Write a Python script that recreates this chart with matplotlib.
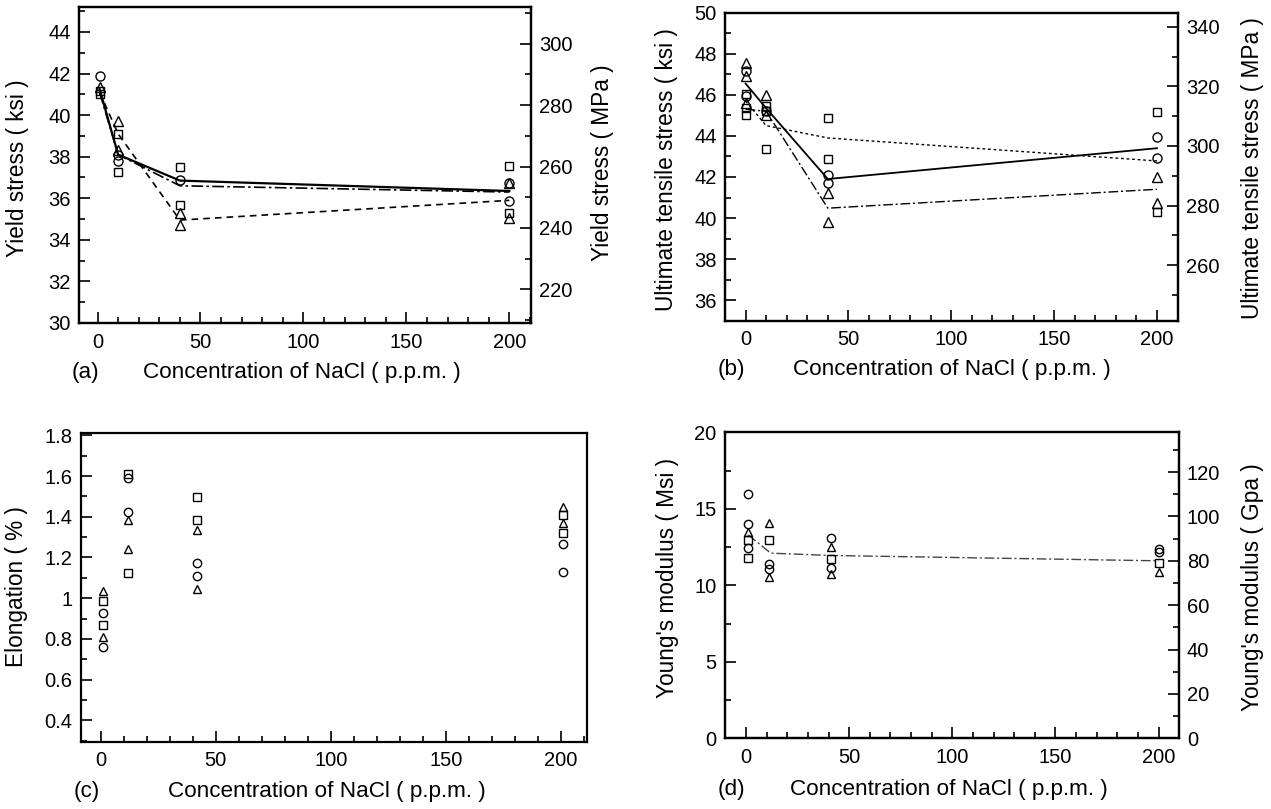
import matplotlib
matplotlib.use("Agg")
import matplotlib.pyplot as plt
from matplotlib.ticker import MultipleLocator

plt.rcParams['font.family'] = ['Liberation Sans', 'DejaVu Sans']

W, H = 1271, 809
KSI_TO_MPA = 6.895

# ---------------- data ----------------
# (a) yield stress, ksi
a_circle_x = [1, 10, 10, 40, 200, 200]
a_circle_y = [41.9, 38.1, 37.8, 36.9, 36.75, 35.87]
a_square_x = [1, 1, 10, 10, 40, 40, 200, 200]
a_square_y = [41.15, 41.0, 39.1, 37.27, 37.5, 35.67, 37.55, 35.3]
a_tri_x = [1, 10, 10, 40, 40, 200, 200]
a_tri_y = [41.35, 39.73, 38.3, 35.3, 34.71, 36.75, 35.03]
a_line_x = [1, 10, 40, 200]
a_solid = [41.25, 38.1, 36.85, 36.35]
a_dashdot = [41.1, 38.1, 36.6, 36.3]
a_dashed = [41.1, 39.1, 34.95, 35.9]

# (b) ultimate tensile stress, ksi
b_circle_x = [0, 0, 10, 40, 40, 200, 200]
b_circle_y = [47.15, 45.93, 45.2, 42.1, 41.7, 43.93, 42.92]
b_square_x = [0, 0, 0, 10, 10, 10, 40, 40, 200, 200]
b_square_y = [46.05, 45.36, 45.03, 45.47, 45.2, 43.37, 44.87, 42.87, 45.15, 40.31]
b_tri_x = [0, 0, 0, 10, 10, 40, 40, 200, 200]
b_tri_y = [47.56, 46.94, 45.6, 46.01, 45.0, 41.21, 39.83, 42.02, 40.75]
b_line_x = [0, 10, 40, 200]
b_solid = [46.55, 45.35, 41.9, 43.4]
b_dotted = [45.7, 44.5, 43.9, 42.78]
b_dashdot = [45.3, 45.2, 40.48, 41.4]

# (c) elongation, %
c_circle_x = [1, 1, 12, 12, 42, 42, 201, 201]
c_circle_y = [0.925, 0.759, 1.59, 1.422, 1.175, 1.109, 1.264, 1.129]
c_square_x = [1, 1, 12, 12, 42, 42, 201, 201]
c_square_y = [0.987, 0.868, 1.611, 1.126, 1.495, 1.386, 1.407, 1.321]
c_tri_x = [1, 1, 12, 12, 42, 42, 201, 201]
c_tri_y = [1.036, 0.808, 1.383, 1.24, 1.337, 1.047, 1.448, 1.367]

# (d) Young's modulus, Msi
d_circle_x = [1, 1, 1, 11, 11, 41, 41, 200, 200]
d_circle_y = [15.95, 13.99, 12.42, 11.39, 11.06, 13.07, 11.15, 12.35, 12.2]
d_square_x = [1, 1, 11, 41, 200]
d_square_y = [12.96, 11.76, 12.96, 11.7, 11.48]
d_tri_x = [1, 11, 11, 41, 41, 200]
d_tri_y = [13.5, 14.09, 10.56, 12.52, 10.74, 10.89]
d_line_x = [1, 12, 41, 200]
d_line_y = [13.3, 12.1, 11.95, 11.6]

x_ticks = [0, 50, 100, 150, 200]
xlabel_text = "Concentration of NaCl ( p.p.m. )"

# ---------------- figure ----------------
fig = plt.figure(figsize=(W / 100, H / 100), dpi=100)


def box(l, r, t, b):
    return [l / W, 1 - b / H, (r - l) / W, (b - t) / H]


def fx(x):
    return x / W


def fy(y):
    return 1 - y / H


TICK_FS = 14.5
YLAB_FS = 16.3
XLAB_FS = 16.2


def style(ax, right=False):
    for s in ax.spines.values():
        s.set_linewidth(1.6)
    ax.tick_params(which='both', direction='in', labelsize=TICK_FS, width=1.2,
                   top=False, right=False, left=not right, labelleft=not right,
                   labelright=right)
    if right:
        ax.tick_params(which='both', right=True, left=False)
    ax.tick_params(which='major', length=8)
    ax.tick_params(which='minor', length=4)
    ax.tick_params(axis='x', pad=7)
    ax.tick_params(axis='y', pad=6)


def markers(ax, cx, cy, sx, sy, tx, ty, ms=6.5):
    kw = dict(linestyle='none', markerfacecolor='none', markeredgecolor='black',
              markeredgewidth=1.0, zorder=3)
    ax.plot(cx, cy, marker='o', markersize=ms, **kw)
    ax.plot(sx, sy, marker='s', markersize=ms * 0.85, **kw)
    ax.plot(tx, ty, marker='^', markersize=ms, **kw)


def xaxis(ax, xlim):
    ax.set_xlim(*xlim)
    ax.set_xticks(x_ticks)
    ax.xaxis.set_minor_locator(MultipleLocator(10))


# ---- (a) ----
axa = fig.add_axes(box(79, 531, 7, 323))
xaxis(axa, (-9, 210.5))
axa.set_ylim(30, 45.2)
axa.set_yticks(range(30, 45, 2))
axa.yaxis.set_minor_locator(MultipleLocator(1))
markers(axa, a_circle_x, a_circle_y, a_square_x, a_square_y, a_tri_x, a_tri_y)
axa.plot(a_line_x, a_solid, color='black', lw=1.6, linestyle='-')
axa.plot(a_line_x, a_dashdot, color='black', lw=1.2, linestyle=(0, (7, 2, 1.5, 2)))
axa.plot(a_line_x, a_dashed, color='black', lw=1.2, linestyle=(0, (4, 3)))
style(axa)
axa2 = axa.twinx()
axa2.set_ylim(209, 312)
axa2.set_yticks(range(220, 301, 20))
axa2.yaxis.set_minor_locator(MultipleLocator(10))
style(axa2, right=True)

# ---- (b) ----
axb = fig.add_axes(box(725, 1177.5, 12.7, 320.7))
xaxis(axb, (-10, 210))
axb.set_ylim(35, 50)
axb.set_yticks(range(36, 51, 2))
axb.yaxis.set_minor_locator(MultipleLocator(1))
markers(axb, b_circle_x, b_circle_y, b_square_x, b_square_y, b_tri_x, b_tri_y)
axb.plot(b_line_x, b_solid, color='black', lw=1.3, linestyle='-')
axb.plot(b_line_x, b_dotted, color='black', lw=1.0, linestyle=(0, (2, 2)))
axb.plot(b_line_x, b_dashdot, color='black', lw=1.0, linestyle=(0, (7, 2, 1.5, 2)))
style(axb)
axb2 = axb.twinx()
axb2.set_ylim(35 * KSI_TO_MPA, 50 * KSI_TO_MPA)
axb2.set_yticks(range(260, 341, 20))
axb2.yaxis.set_minor_locator(MultipleLocator(10))
style(axb2, right=True)

# ---- (c) ----
axc = fig.add_axes(box(80.7, 587.3, 433.3, 741.7))
xaxis(axc, (-8.7, 211.5))
axc.set_ylim(0.295, 1.81)
axc.set_yticks([0.4, 0.6, 0.8, 1.0, 1.2, 1.4, 1.6, 1.8])
axc.set_yticklabels(['0.4', '0.6', '0.8', '1', '1.2', '1.4', '1.6', '1.8'])
axc.yaxis.set_minor_locator(MultipleLocator(0.1))
markers(axc, c_circle_x, c_circle_y, c_square_x, c_square_y, c_tri_x, c_tri_y, ms=6)
style(axc)

# ---- (d) ----
axd = fig.add_axes(box(725, 1178.6, 432.3, 738.3))
xaxis(axd, (-10.2, 209.7))
axd.set_ylim(0, 20)
axd.set_yticks([0, 5, 10, 15, 20])
axd.yaxis.set_minor_locator(MultipleLocator(2.5))
markers(axd, d_circle_x, d_circle_y, d_square_x, d_square_y, d_tri_x, d_tri_y, ms=6)
axd.plot(d_line_x, d_line_y, color='#444444', lw=1.0, linestyle=(0, (7, 2, 1.5, 2)))
style(axd)
axd2 = axd.twinx()
axd2.set_ylim(0, 20 * KSI_TO_MPA)
axd2.set_yticks(range(0, 121, 20))
axd2.yaxis.set_minor_locator(MultipleLocator(10))
style(axd2, right=True)

# ---------------- labels ----------------
def ylab(x, y, s):
    fig.text(fx(x), fy(y), s, rotation=90, ha='center', va='center', fontsize=YLAB_FS)


ylab(18, 168, "Yield stress ( ksi )")
ylab(603, 163, "Yield stress ( MPa )")
ylab(667, 170, "Ultimate tensile stress ( ksi )")
ylab(1252, 168, "Ultimate tensile stress ( MPa )")
ylab(17, 587, "Elongation ( % )")
ylab(668, 578, "Young's modulus ( Msi )")
ylab(1253, 587, "Young's modulus ( Gpa )")

for lx, ly, letter, cx in [(85, 373, "(a)", 302), (731, 370, "(b)", 952),
                           (87, 792, "(c)", 327), (731, 790, "(d)", 949)]:
    fig.text(fx(lx), fy(ly), letter, ha='center', va='center', fontsize=XLAB_FS)
    fig.text(fx(cx), fy(ly), xlabel_text, ha='center', va='center', fontsize=XLAB_FS)

fig.savefig("out.png", dpi=100)
